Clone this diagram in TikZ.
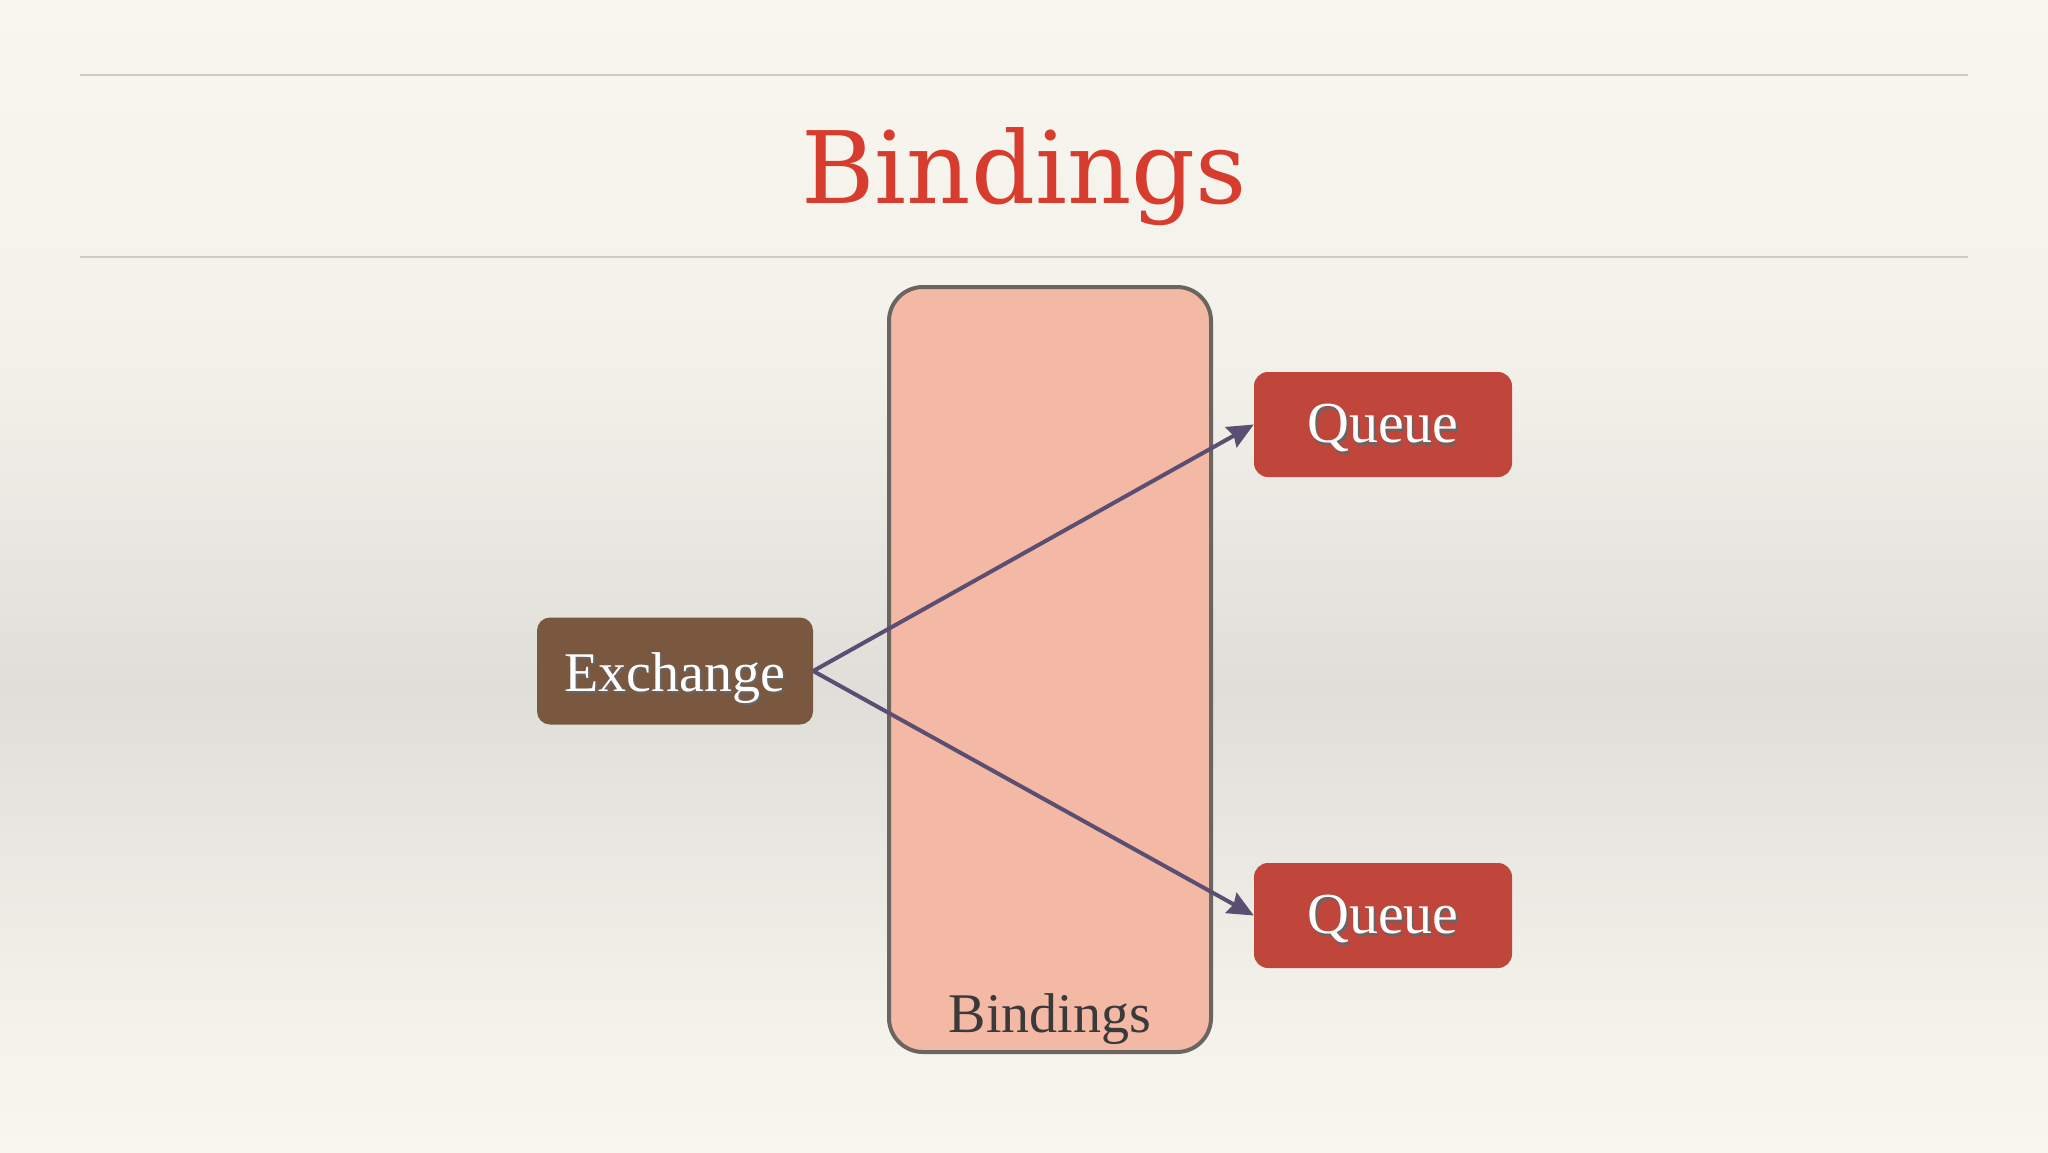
\documentclass[tikz,border=0pt]{standalone}
\usepackage{fontspec}
\setmainfont{Liberation Serif}
\newfontfamily\titlefont{DejaVu Serif}
\usetikzlibrary{arrows.meta}
\definecolor{bgcream}{HTML}{F8F6EF}
\definecolor{bgmid}{HTML}{F2F1EA}
\definecolor{bgdark}{HTML}{DFDED8}
\definecolor{rulegray}{HTML}{CFCBC4}
\definecolor{titlered}{HTML}{D63D2E}
\definecolor{bindfill}{HTML}{F4B9A5}
\definecolor{bindedge}{HTML}{6A6561}
\definecolor{exbrown}{HTML}{7A5840}
\definecolor{queuered}{HTML}{C0453A}
\definecolor{arrowpurple}{HTML}{5A4E72}
\definecolor{labelgray}{HTML}{3A3A3A}
\newcommand{\shadowtext}[1]{\rlap{\hspace{2pt}\raisebox{-2.5pt}{\color{black!60}#1}}#1}
\tikzset{
  boxbase/.style={inner sep=0pt, text=white},
  exbox/.style={boxbase, fill=exbrown, rounded corners=13pt, minimum width=276pt, minimum height=107pt,
    font=\fontsize{56}{60}\selectfont, text height=50pt, text depth=10pt},
  queuebox/.style={boxbase, fill=queuered, rounded corners=14pt, minimum width=258pt, minimum height=105pt,
    font=\fontsize{58}{62}\selectfont, text height=46pt, text depth=10pt},
  bindbox/.style={draw=bindedge, line width=4pt, fill=bindfill, rounded corners=34pt, minimum width=322pt, minimum height=765pt, inner sep=0pt},
  link/.style={draw=arrowpurple, line width=4pt, -{Stealth[length=26pt, width=23pt, inset=3pt]}},
  rulel/.style={draw=rulegray, line width=1.5pt}
}
\begin{document}
\begin{tikzpicture}[x=1pt, y=-1pt]
\useasboundingbox (0,0) rectangle (2048,1152);
% background
\shade[top color=bgcream, bottom color=bgmid] (0,0) rectangle (2048,360);
\shade[top color=bgmid, bottom color=bgdark] (0,360) rectangle (2048,690);
\shade[top color=bgdark, bottom color=bgmid] (0,690) rectangle (2048,1010);
\shade[top color=bgmid, bottom color=bgcream] (0,1010) rectangle (2048,1152);
% rules and title
\coordinate (r1a) at (80,75); \coordinate (r1b) at (1968,75);
\coordinate (r2a) at (80,257); \coordinate (r2b) at (1968,257);
\draw[rulel] (r1a) -- (r1b);
\draw[rulel] (r2a) -- (r2b);
\node[anchor=base, inner sep=0pt] (title) at (1024,203) {\titlefont\fontsize{100}{120}\selectfont\color{titlered}Bindings};
% bindings container
\node[bindbox] (bind) at (1050,669.5) {};
\node[anchor=base, text=labelgray, font=\fontsize{56}{60}\selectfont] (bindlabel) at (1050,1032) {Bindings};
% nodes
\node[exbox] (ex) at (675,671) {\shadowtext{Exchange}};
\node[queuebox] (q1) at (1383,424.5) {\shadowtext{Queue}};
\node[queuebox] (q2) at (1383,915.5) {\shadowtext{Queue}};
% links
\draw[link] (ex.east) -- (q1.west);
\draw[link] (ex.east) -- (q2.west);
\end{tikzpicture}
\end{document}
